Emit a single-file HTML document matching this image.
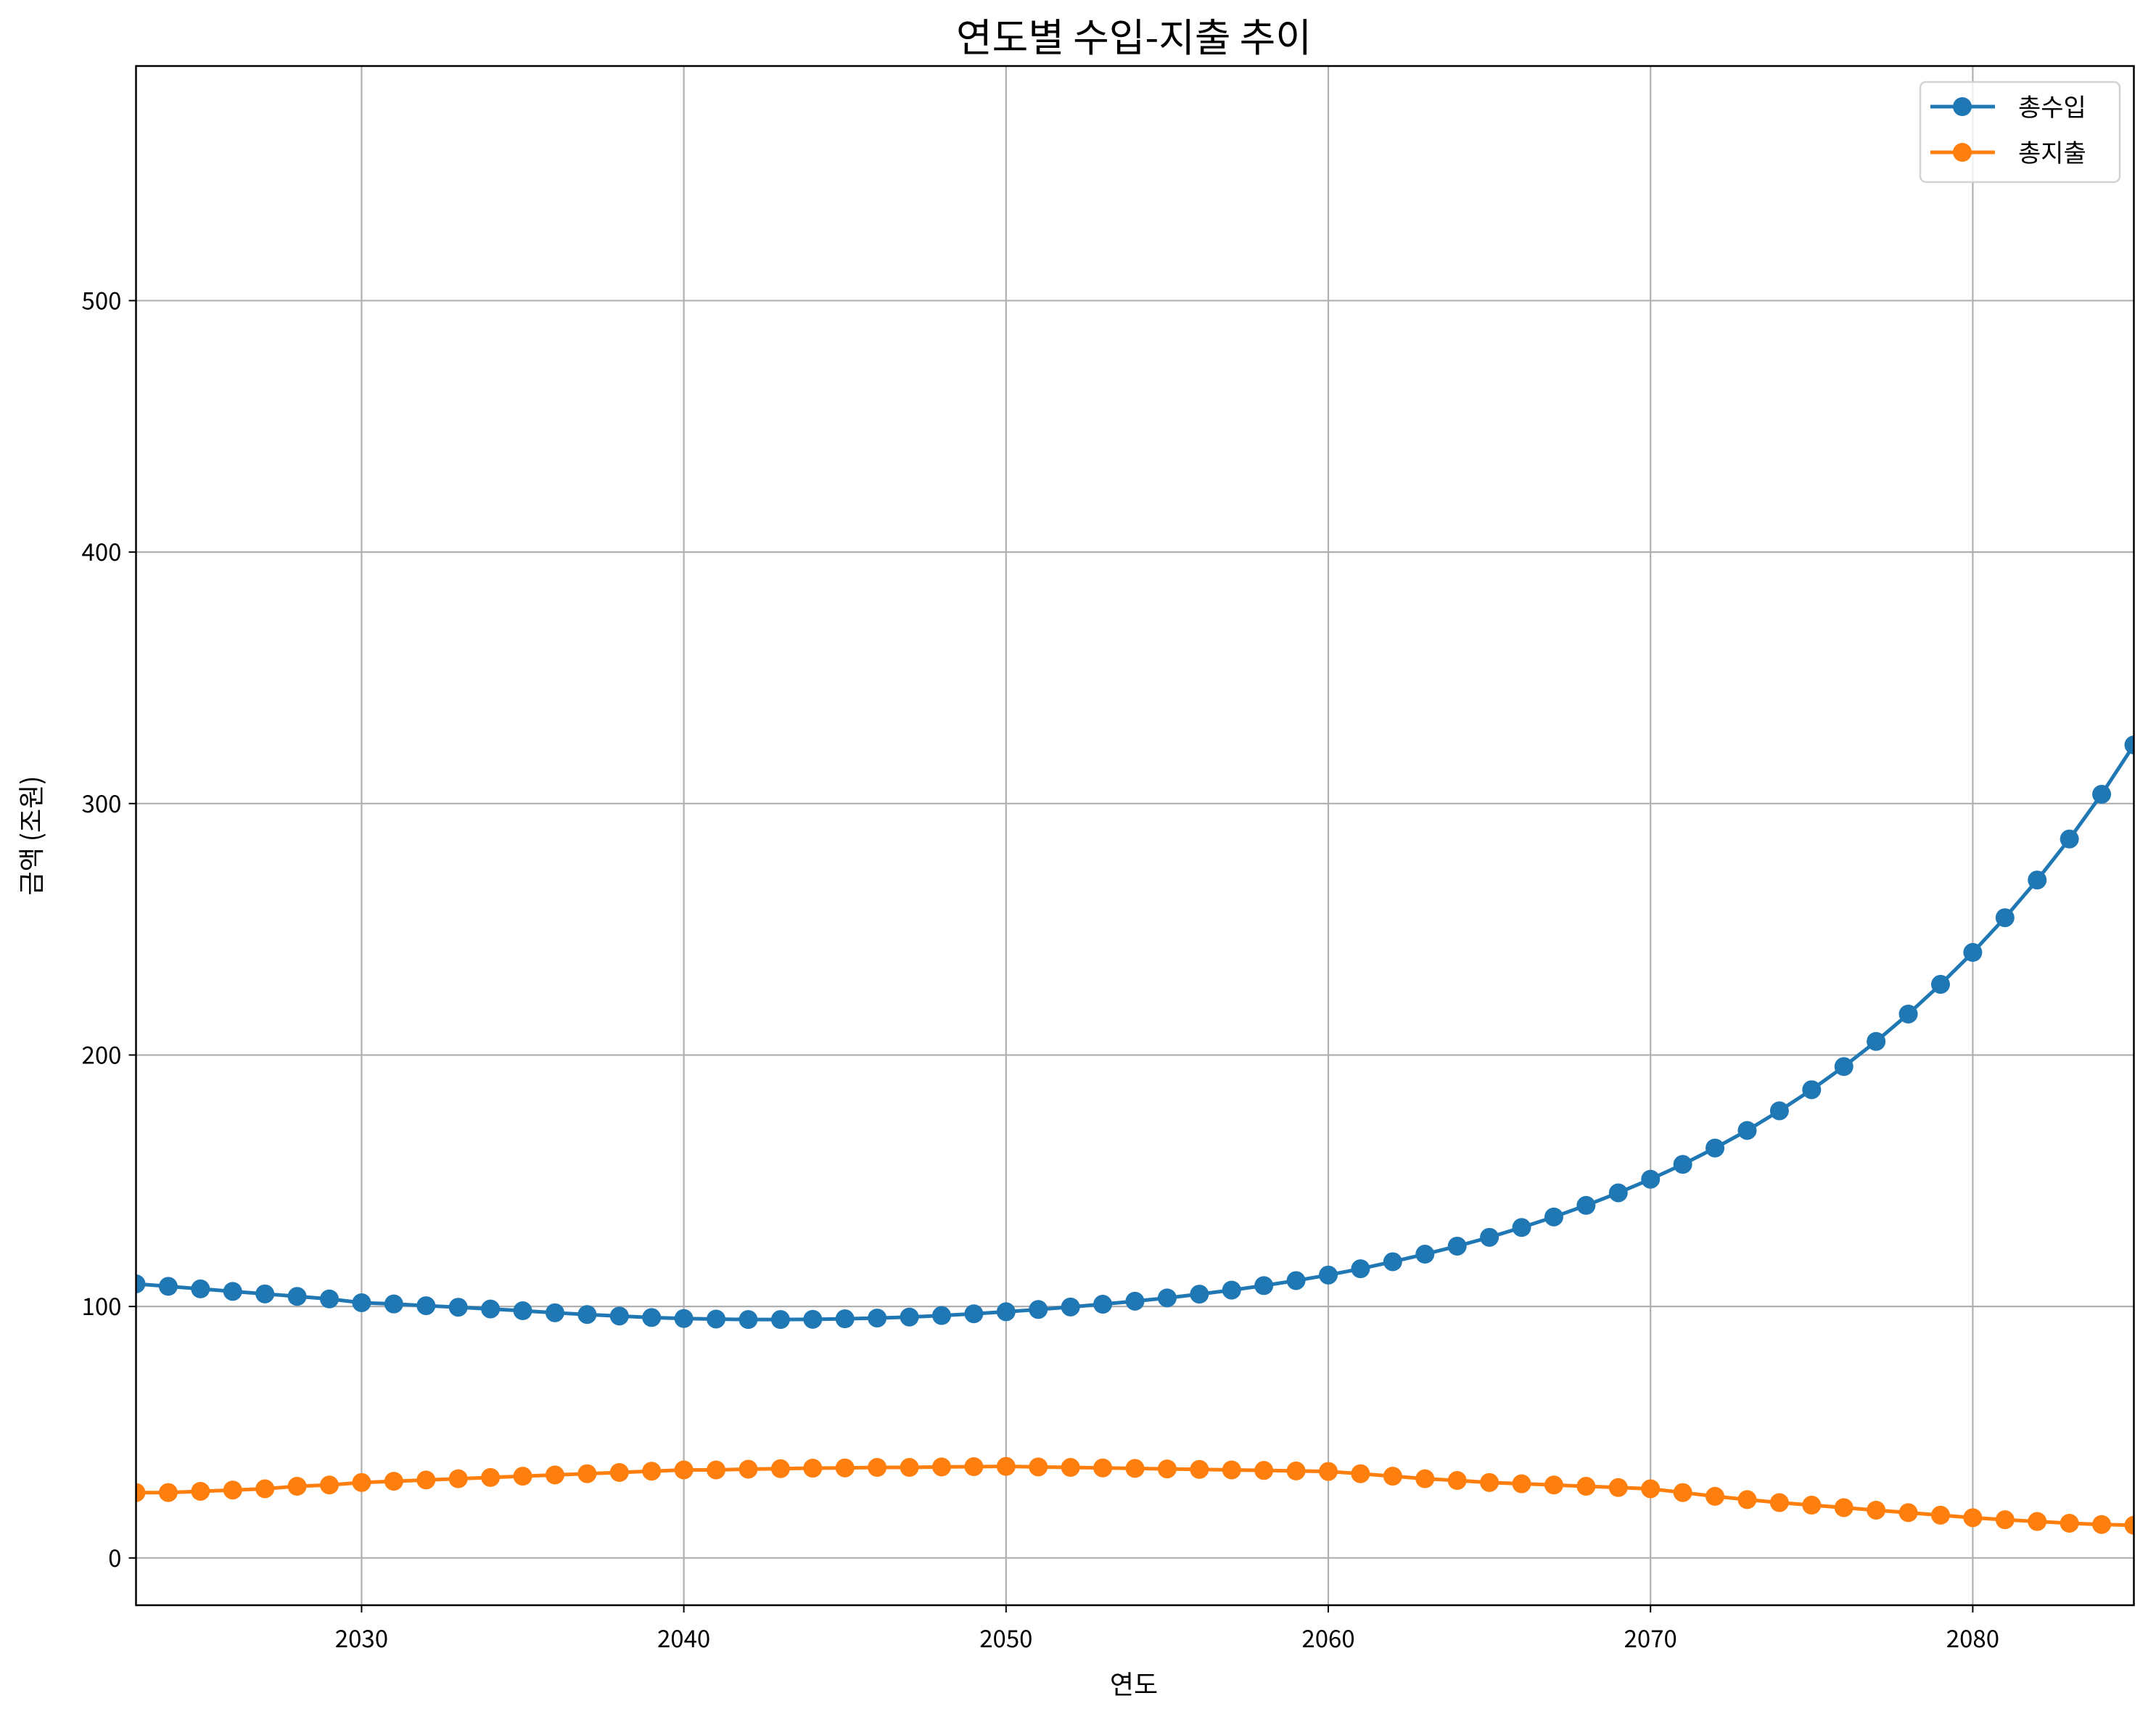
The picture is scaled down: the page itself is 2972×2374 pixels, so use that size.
<!DOCTYPE html>
<html><head><meta charset="utf-8"><style>
html,body{margin:0;padding:0;background:#fff;}
svg{display:block;}
text{font-family:"Noto Sans CJK KR","Liberation Sans",sans-serif;fill:#000;}
</style></head><body>
<svg id="chart" width="2972" height="2374" viewBox="0 0 2972 2374" xmlns="http://www.w3.org/2000/svg">
<rect width="2972" height="2374" fill="#fff"/>
<g id="grid"></g>
<g id="series"></g>
<rect x="187.5" y="91" width="2754" height="2122" fill="none" stroke="#000" stroke-width="2.5"/>
<g id="ticks"></g>
<text x="1563" y="71" text-anchor="middle" font-size="54">연도별 수입-지출 추이</text>
<text x="1563" y="2335" text-anchor="middle" font-size="36">연도</text>
<text x="0" y="0" transform="translate(56,1152) rotate(-90)" text-anchor="middle" font-size="36">금액 (조원)</text>
<g>
<rect x="2647" y="113" width="275" height="138" rx="8" fill="#fff" fill-opacity="0.8" stroke="#d3d3d3" stroke-width="2.5"/>
<g>
<line x1="2661" y1="147" x2="2750" y2="147" stroke="#1f77b4" stroke-width="5"/>
<circle cx="2705" cy="147" r="13" fill="#1f77b4"/>
<text x="2782" y="160" font-size="34">총수입</text>
</g>
<g>
<line x1="2661" y1="210" x2="2750" y2="210" stroke="#ff7f0e" stroke-width="5"/>
<circle cx="2705" cy="210" r="13" fill="#ff7f0e"/>
<text x="2782" y="223" font-size="34">총지출</text>
</g>
</g>
</svg>
<script>
const years = [];
for (let y = 2023; y <= 2085; y++) years.push(y);
const income = [109,108,107,106,105,104,103,101.5,101,100.3,99.7,99,98.3,97.5,96.8,96.2,95.6,95.2,95,94.8,94.8,94.9,95.1,95.4,95.8,96.4,97.1,97.9,98.8,99.8,100.9,102.1,103.4,104.9,106.5,108.3,110.3,112.5,115,117.8,120.8,124,127.5,131.4,135.6,140.2,145.2,150.6,156.5,163,170,177.8,186.2,195.4,205.4,216.3,228.1,240.8,254.6,269.6,285.9,303.7,323.3];
const expense = [26,26,26.5,27,27.5,28.5,29,30,30.5,31,31.5,32,32.5,33,33.5,34,34.5,35,35,35.3,35.5,35.7,35.8,36,36,36.2,36.3,36.4,36.2,36,35.8,35.6,35.4,35.2,35,34.8,34.6,34.4,33.5,32.5,31.5,30.8,30,29.5,29,28.5,28,27.5,26,24.5,23.2,22,21,20,19,18,17,16,15.2,14.5,13.8,13.3,13];
const xTicks = [2030,2040,2050,2060,2070,2080];
const yTicks = [0,100,200,300,400,500];

const L=187.5,R=2941.5,T=91,B=2213;
const xMin=2023,xMax=2085,yMin=-18.8,yMax=593.3;
const sx=v=>L+(v-xMin)/(xMax-xMin)*(R-L);
const sy=v=>B-(v-yMin)/(yMax-yMin)*(B-T);
const NS="http://www.w3.org/2000/svg";
function mk(tag,attrs,parent){const e=document.createElementNS(NS,tag);for(const k in attrs)e.setAttribute(k,attrs[k]);parent.appendChild(e);return e;}
const grid=document.getElementById('grid'),ticks=document.getElementById('ticks'),series=document.getElementById('series');
xTicks.forEach(t=>{
  const g=mk('line',{x1:sx(t),x2:sx(t),y1:T,y2:B,stroke:'#b0b0b0','stroke-width':2.2},grid);
  
  
  mk('line',{x1:sx(t),x2:sx(t),y1:B,y2:B+10,stroke:'#000','stroke-width':2},ticks);
  const tx=mk('text',{x:sx(t),y:B+58,'text-anchor':'middle','font-size':33},ticks);
  tx.textContent=t;
  
  
});
yTicks.forEach(t=>{
  const g=mk('line',{x1:L,x2:R,y1:sy(t),y2:sy(t),stroke:'#b0b0b0','stroke-width':2.2},grid);
  
  
  mk('line',{x1:L-10,x2:L,y1:sy(t),y2:sy(t),stroke:'#000','stroke-width':2},ticks);
  const tx=mk('text',{x:L-20,y:sy(t)+12,'text-anchor':'end','font-size':33},ticks);
  tx.textContent=t;
  
  
});
function draw(vals,color,name){
  const g=mk('g',{},series);
  
  
  const pl=mk('polyline',{points:vals.map((v,i)=>sx(years[i])+','+sy(v)).join(' '),fill:'none',stroke:color,'stroke-width':5,'clip-path':'url(#clip)'},g);
  
  
  vals.forEach((v,i)=>{
    const c=mk('circle',{cx:sx(years[i]),cy:sy(v),r:13,fill:color,'clip-path':'url(#clip)'},g);
    
    
  });
}
const defs=mk('defs',{},document.getElementById('chart'));
const cp=mk('clipPath',{id:'clip'},defs);
mk('rect',{x:L,y:T,width:R-L,height:B-T},cp);
draw(income,'#1f77b4','income');
draw(expense,'#ff7f0e','expense');
</script>
</body></html>
